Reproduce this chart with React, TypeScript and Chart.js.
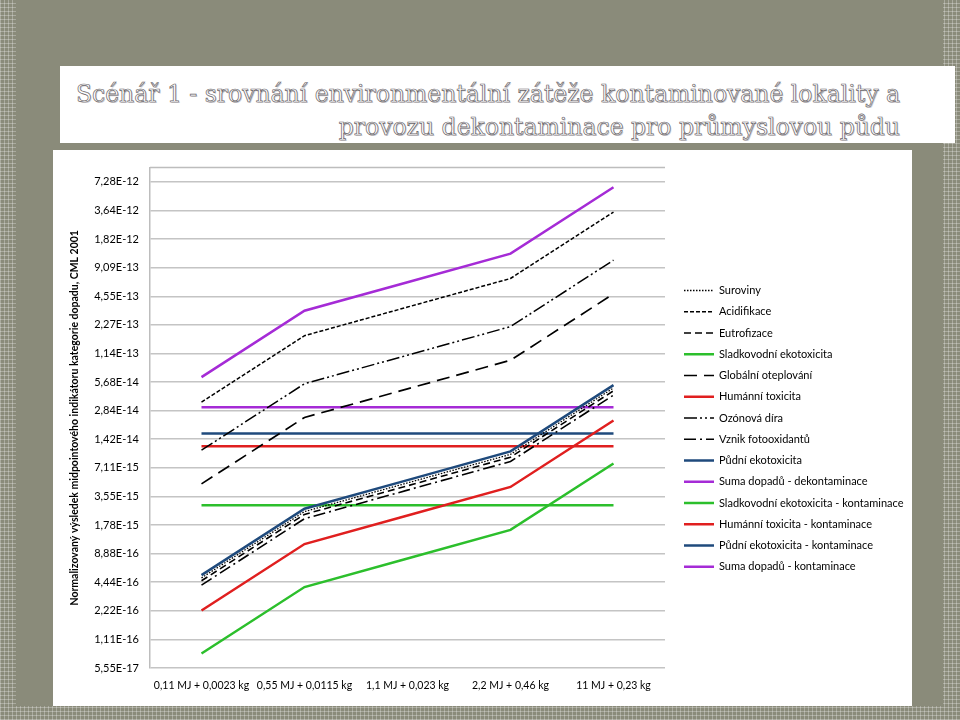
import React, { useEffect, useRef } from "react";
import { Chart, registerables } from "chart.js";

Chart.register(...registerables);

// ---- data ----
const CATEGORIES = [
  "0,11 MJ + 0,0023 kg",
  "0,55 MJ + 0,0115 kg",
  "1,1 MJ + 0,023 kg",
  "2,2 MJ + 0,46 kg",
  "11 MJ + 0,23 kg",
];

const SUROVINY = [4.93e-16, 2.46e-15, 4.93e-15, 9.85e-15, 4.93e-14];
const ACIDIFIKACE = [3.5e-14, 1.75e-13, 3.5e-13, 7.0e-13, 3.5e-12];
const EUTROFIZACE = [4.6e-16, 2.3e-15, 4.6e-15, 9.2e-15, 4.6e-14];
const SLADKOVODNI = [7.9e-17, 3.95e-16, 7.9e-16, 1.58e-15, 7.9e-15];
const GLOBALNI = [4.82e-15, 2.41e-14, 4.82e-14, 9.64e-14, 4.82e-13];
const HUMANNI = [2.24e-16, 1.12e-15, 2.24e-15, 4.47e-15, 2.24e-14];
const OZONOVA = [1.09e-14, 5.46e-14, 1.09e-13, 2.18e-13, 1.09e-12];
const FOTOOXIDANTY = [4.14e-16, 2.07e-15, 4.14e-15, 8.29e-15, 4.14e-14];
const PUDNI = [5.28e-16, 2.64e-15, 5.28e-15, 1.06e-14, 5.28e-14];
const SUMA_DEKONT = [6.4e-14, 3.2e-13, 6.4e-13, 1.28e-12, 6.4e-12];
const SLADKOVODNI_KONT = [2.87e-15, 2.87e-15, 2.87e-15, 2.87e-15, 2.87e-15];
const HUMANNI_KONT = [1.2e-14, 1.2e-14, 1.2e-14, 1.2e-14, 1.2e-14];
const PUDNI_KONT = [1.63e-14, 1.63e-14, 1.63e-14, 1.63e-14, 1.63e-14];
const SUMA_KONT = [3.09e-14, 3.09e-14, 3.09e-14, 3.09e-14, 3.09e-14];

const SERIES_NAMES = [
  "Suroviny",
  "Acidifikace",
  "Eutrofizace",
  "Sladkovodní ekotoxicita",
  "Globální oteplování",
  "Humánní toxicita",
  "Ozónová díra",
  "Vznik fotooxidantů",
  "Půdní ekotoxicita",
  "Suma dopadů - dekontaminace",
  "Sladkovodní ekotoxicita - kontaminace",
  "Humánní toxicita - kontaminace",
  "Půdní ekotoxicita - kontaminace",
  "Suma dopadů - kontaminace",
];
const SERIES_VALUES = [
  SUROVINY, ACIDIFIKACE, EUTROFIZACE, SLADKOVODNI, GLOBALNI, HUMANNI, OZONOVA,
  FOTOOXIDANTY, PUDNI, SUMA_DEKONT, SLADKOVODNI_KONT, HUMANNI_KONT, PUDNI_KONT, SUMA_KONT,
];

// y axis: powers of two
const Y_TICK_EXPONENTS = [-54, -53, -52, -51, -50, -49, -48, -47, -46, -45, -44, -43, -42, -41, -40, -39, -38, -37];
const Y_MIN_EXP = -54;
const Y_MAX_EXP = -36.5;

const Y_TITLE = "Normalizovaný výsledek midpointového indikátoru kategorie dopadu, CML 2001";
const TITLE_1 = "Scénář 1 - srovnání environmentální zátěže kontaminované lokality a";
const TITLE_2 = "provozu dekontaminace pro průmyslovou půdu";

// ---- styles ----
const PURPLE = "#a52bd6";
const GREEN = "#2cbf2c";
const RED = "#e01f1f";
const NAVY = "#1f4a7c";
const BLACK = "#000000";

const STYLES: { color: string; width: number; dash: number[] }[] = [
  { color: BLACK, width: 1.3, dash: [1.5, 1.5] },
  { color: BLACK, width: 1.5, dash: [4, 2] },
  { color: BLACK, width: 1.6, dash: [7, 4] },
  { color: GREEN, width: 2.5, dash: [] },
  { color: BLACK, width: 1.7, dash: [13, 7] },
  { color: RED, width: 2.5, dash: [] },
  { color: BLACK, width: 1.5, dash: [13, 3, 2, 3, 2, 3] },
  { color: BLACK, width: 1.6, dash: [12, 4, 2, 4] },
  { color: NAVY, width: 2.5, dash: [] },
  { color: PURPLE, width: 2.5, dash: [] },
  { color: GREEN, width: 2.5, dash: [] },
  { color: RED, width: 2.5, dash: [] },
  { color: NAVY, width: 2.5, dash: [] },
  { color: PURPLE, width: 2.5, dash: [] },
];

const FONT = "Lato, 'Open Sans', sans-serif";

function fmtTick(v: number): string {
  const s = v.toExponential(2);
  const [m, e] = s.split("e");
  const exp = parseInt(e, 10);
  const sign = exp < 0 ? "-" : "+";
  const a = Math.abs(exp);
  return m.replace(".", ",") + "E" + sign + (a < 10 ? "0" + a : String(a));
}

const frameAndLegend = {
  id: "frameAndLegend",
  beforeDatasetsDraw(chart: any) {
    const { ctx, chartArea } = chart;
    ctx.save();
    ctx.strokeStyle = "#bdbdbd";
    ctx.lineWidth = 1.5;
    ctx.beginPath();
    ctx.moveTo(chartArea.left, chartArea.top);
    ctx.lineTo(chartArea.right, chartArea.top);
    ctx.stroke();
    ctx.restore();
  },
  afterDraw(chart: any) {
    const { ctx, chartArea } = chart;
    const x0 = chartArea.right + 19;
    chart.data.datasets.forEach((ds: any, i: number) => {
      const y = 140.5 + i * 21.25;
      ctx.save();
      ctx.strokeStyle = ds.borderColor;
      ctx.lineWidth = ds.borderWidth;
      ctx.setLineDash(ds.borderDash || []);
      ctx.beginPath();
      ctx.moveTo(x0, y);
      ctx.lineTo(x0 + 30, y);
      ctx.stroke();
      ctx.setLineDash([]);
      ctx.fillStyle = "#000";
      ctx.font = "11px " + FONT;
      ctx.textBaseline = "middle";
      ctx.textAlign = "left";
      ctx.fillText(ds.label, x0 + 35, y);
      ctx.restore();
    });
  },
};

export default function App() {
  const canvasRef = useRef<HTMLCanvasElement>(null);

  useEffect(() => {
    const canvas = canvasRef.current;
    if (!canvas) return;
    const chart = new Chart(canvas, {
      type: "line",
      data: {
        labels: CATEGORIES,
        datasets: SERIES_NAMES.map((name, i) => ({
          label: name,
          data: SERIES_VALUES[i],
          borderColor: STYLES[i].color,
          backgroundColor: STYLES[i].color,
          borderWidth: STYLES[i].width,
          borderDash: STYLES[i].dash,
          pointRadius: 0,
          pointHoverRadius: 0,
          tension: 0,
          fill: false,
        })),
      },
      options: {
        animation: false,
        responsive: false,
        devicePixelRatio: 1,
        layout: { padding: { top: 13, right: 247, bottom: 0, left: 0 } },
        plugins: {
          legend: { display: false },
          tooltip: { enabled: false },
          title: { display: false },
        },
        scales: {
          x: {
            type: "category",
            offset: true,
            grid: { display: false, drawTicks: false },
            border: { display: false },
            ticks: {
              color: "#000",
              font: { family: FONT, size: 10.5 },
              padding: 11,
              maxRotation: 0,
              minRotation: 0,
              autoSkip: false,
            },
            afterFit: (scale: any) => {
              scale.height = 38;
            },
          },
          y: {
            type: "logarithmic",
            min: Math.pow(2, Y_MIN_EXP),
            max: Math.pow(2, Y_MAX_EXP),
            afterBuildTicks: (scale: any) => {
              scale.ticks = Y_TICK_EXPONENTS.map((e) => ({ value: Math.pow(2, e) }));
            },
            grid: { color: "#c4c4c4", lineWidth: 1.5, drawTicks: false },
            border: { display: true, color: "#bdbdbd", width: 1.5 },
            ticks: {
              color: "#000",
              font: { family: FONT, size: 11 },
              padding: 11,
              autoSkip: false,
              callback: (v: any) => fmtTick(Number(v)),
            },
            title: {
              display: true,
              text: Y_TITLE,
              color: "#000",
              font: { family: FONT, size: 10.5, weight: "bold" },
              padding: { top: 15, bottom: 0 },
            },
            afterFit: (scale: any) => {
              scale.width = 97;
            },
          },
        },
      },
      plugins: [frameAndLegend],
    } as any);
    return () => chart.destroy();
  }, []);

  const checker =
    "repeating-linear-gradient(0deg, rgba(255,255,255,0.28) 0px, rgba(255,255,255,0.28) 1px, transparent 1px, transparent 4px)," +
    "repeating-linear-gradient(90deg, rgba(255,255,255,0.28) 0px, rgba(255,255,255,0.28) 1px, transparent 1px, transparent 4px)," +
    "#8a8b7a";

  return (
    <div
      style={{
        position: "absolute",
        left: 0,
        top: 0,
        width: 960,
        height: 720,
        overflow: "hidden",
        background: checker,
      }}
    >
      <div style={{ position: "absolute", left: 16, top: 0, width: 927, height: 706, background: "#8a8b7a" }} />
      <div
        style={{
          position: "absolute",
          left: 60,
          top: 66,
          width: 895,
          height: 77,
          background: "#ffffff",
        }}
      >
        <div
          style={{
            position: "absolute",
            right: 55,
            top: 12,
            textAlign: "right",
            fontFamily: "'DejaVu Serif', serif",
            fontSize: 23.5,
            lineHeight: "33px",
            whiteSpace: "nowrap",
            color: "#ffffff",
            WebkitTextStroke: "0.7px #6a666a",
            textShadow: "1px 1px 0 #d0cdd0",
          } as any}
        >
          <div>{TITLE_1}</div>
          <div>{TITLE_2}</div>
        </div>
      </div>
      <div
        style={{
          position: "absolute",
          left: 53,
          top: 150,
          width: 859,
          height: 556,
          background: "#ffffff",
        }}
      >
        <canvas ref={canvasRef} width={859} height={556} style={{ display: "block", width: 859, height: 556 }} />
      </div>
    </div>
  );
}
